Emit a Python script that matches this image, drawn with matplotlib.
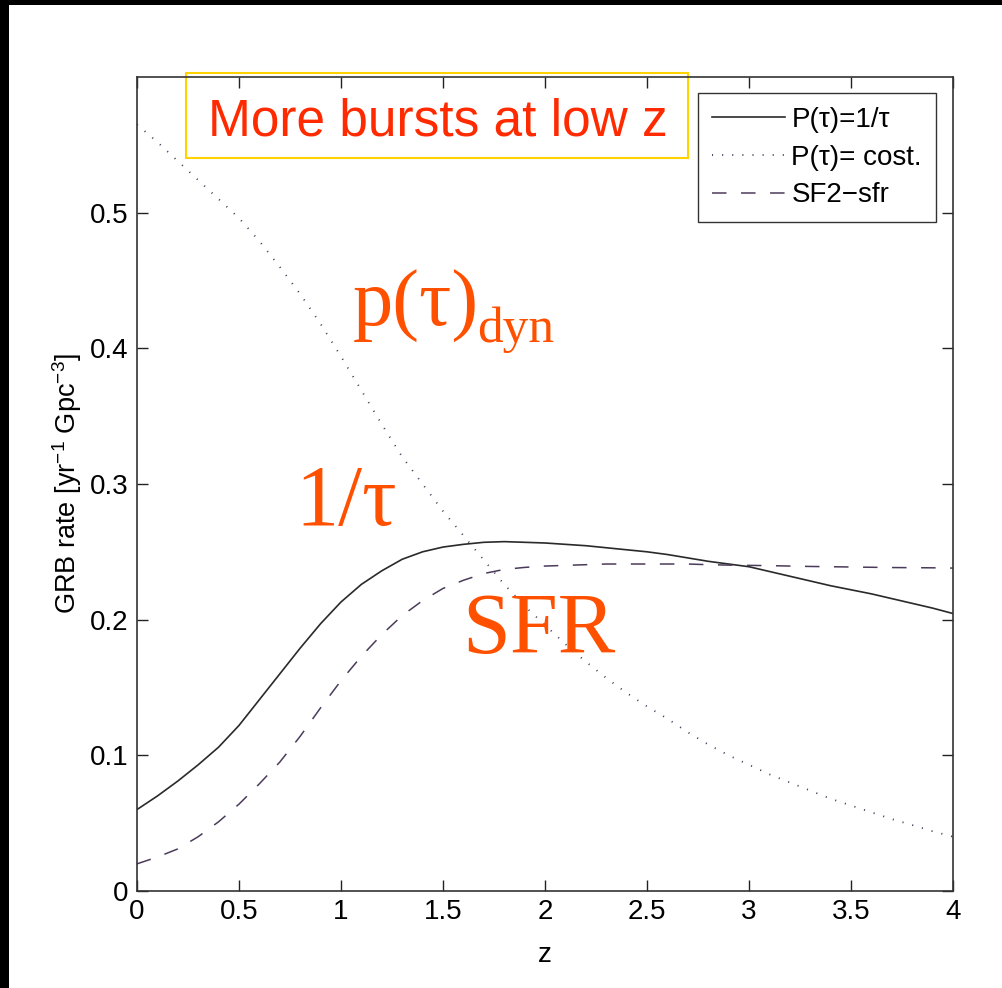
import matplotlib
matplotlib.use('Agg')
import matplotlib.pyplot as plt
from matplotlib.patches import Rectangle

# redshift grid and the three GRB rate curves
z = [0.0, 0.1, 0.2, 0.3, 0.4, 0.5, 0.6, 0.7, 0.8, 0.9,
     1.0, 1.1, 1.2, 1.3, 1.4, 1.5, 1.6, 1.7, 1.8, 1.9,
     2.0, 2.1, 2.2, 2.3, 2.4, 2.5, 2.6, 2.7, 2.8, 2.9,
     3.0, 3.1, 3.2, 3.3, 3.4, 3.5, 3.6, 3.7, 3.8, 3.9, 4.0]
rate_inv_tau = [0.060, 0.070, 0.081, 0.093, 0.106, 0.122, 0.141, 0.160, 0.179, 0.197,
                0.213, 0.226, 0.236, 0.2445, 0.250, 0.2535, 0.2555, 0.257, 0.2575, 0.257,
                0.2565, 0.2555, 0.2545, 0.253, 0.2515, 0.250, 0.248, 0.2455, 0.243, 0.241,
                0.239, 0.2355, 0.232, 0.2285, 0.225, 0.222, 0.219, 0.2155, 0.212, 0.2085,
                0.2045]
rate_const = [0.565, 0.552, 0.538, 0.524, 0.510, 0.496, 0.479, 0.460, 0.440, 0.418,
              0.394, 0.369, 0.344, 0.320, 0.300, 0.280, 0.262, 0.244, 0.226, 0.210,
              0.196, 0.182, 0.169, 0.157, 0.146, 0.136, 0.127, 0.117, 0.108, 0.100,
              0.093, 0.086, 0.080, 0.074, 0.068, 0.063, 0.058, 0.053, 0.0486, 0.044,
              0.040]
rate_sfr = [0.020, 0.025, 0.031, 0.040, 0.051, 0.064, 0.079, 0.095, 0.114, 0.135,
            0.155, 0.173, 0.189, 0.203, 0.214, 0.223, 0.229, 0.234, 0.237, 0.2385,
            0.2395, 0.240, 0.2405, 0.241, 0.241, 0.241, 0.241, 0.241, 0.2405, 0.2402,
            0.240, 0.2398, 0.2395, 0.2392, 0.239, 0.2388, 0.2386, 0.2384, 0.2383, 0.2382,
            0.238]

series_labels = ['P(\u03c4)=1/\u03c4', 'P(\u03c4)= cost.', 'SF2\u2212sfr']
xticks = [0, 0.5, 1, 1.5, 2, 2.5, 3, 3.5, 4]
xtick_labels = ['0', '0.5', '1', '1.5', '2', '2.5', '3', '3.5', '4']
yticks = [0, 0.1, 0.2, 0.3, 0.4, 0.5]
ytick_labels = ['0', '0.1', '0.2', '0.3', '0.4', '0.5']

SANS = ['Liberation Sans', 'DejaVu Sans']
SERIF = ['Liberation Serif', 'DejaVu Serif']
ORANGE = '#ff5000'
RED = '#ff2a00'

plt.rcParams['font.family'] = SANS
plt.rcParams['mathtext.fontset'] = 'custom'
plt.rcParams['mathtext.rm'] = 'Liberation Sans'
plt.rcParams['mathtext.default'] = 'rm'


def main():
    fig = plt.figure(figsize=(10.02, 9.88), dpi=100)
    fig.patch.set_facecolor('white')
    # black screenshot edge on the top and left
    fig.patches.append(Rectangle((0, 0.995), 1, 0.005, transform=fig.transFigure,
                                 fc='black', ec='none'))
    fig.patches.append(Rectangle((0, 0), 0.009, 1, transform=fig.transFigure,
                                 fc='black', ec='none'))

    ax = fig.add_axes([0.1367, 0.0982, 0.8144, 0.8239])
    ax.plot(z, rate_inv_tau, color='#2a2a2a', lw=1.2, label=series_labels[0])
    ax.plot(z, rate_const, color='#4a3a58', lw=1.3,
            linestyle=(0, (0.6, 5.0)), label=series_labels[1])
    ax.plot(z, rate_sfr, color='#4b3b5a', lw=1.1,
            linestyle=(0, (9.5, 9.5)), label=series_labels[2])

    ax.set_xlim(0, 4)
    ax.set_ylim(0, 0.6)
    ax.set_xticks(xticks)
    ax.set_xticklabels(xtick_labels)
    ax.set_yticks(yticks)
    ax.set_yticklabels(ytick_labels)
    ax.tick_params(direction='in', length=8, width=1, top=True, right=True,
                   labelsize=20, pad=6, color='#222222')
    for sp in ax.spines.values():
        sp.set_color('#333333')
        sp.set_linewidth(1.2)

    ax.set_xlabel('z', fontsize=20, labelpad=12)
    ax.set_ylabel('GRB rate [yr$^{-1}$ Gpc$^{-3}$]', fontsize=19.5, labelpad=4)

    leg = ax.legend(loc='upper right', bbox_to_anchor=(0.979, 0.980),
                    fontsize=20, frameon=True, fancybox=False,
                    handlelength=2.6, handletextpad=0.25, labelspacing=0.42,
                    borderpad=0.5, borderaxespad=0)
    leg.get_frame().set_edgecolor('black')
    leg.get_frame().set_linewidth(1.0)

    # yellow-framed headline
    ax.add_patch(Rectangle((0.060, 0.9005), 0.615, 0.1044, transform=ax.transAxes,
                           fill=False, ec='#ffd200', lw=1.5, clip_on=False))
    ax.text(0.369, 0.9275, 'More bursts at low z', transform=ax.transAxes,
            ha='center', va='baseline', fontsize=37, color=RED)

    # orange curve annotations
    ax.text(1.059, 0.4168, 'p(\u03c4)', ha='left', va='baseline',
            fontsize=58, color=ORANGE, family=SERIF)
    ax.text(1.665, 0.4043, 'dyn', ha='left', va='baseline',
            fontsize=37, color=ORANGE, family=SERIF)
    ax.text(0.775, 0.2695, '1/\u03c4', ha='left', va='baseline',
            fontsize=62, color=ORANGE, family=SERIF)
    ax.text(1.593, 0.1753, 'SFR', ha='left', va='baseline',
            fontsize=62, color=ORANGE, family=SERIF)

    fig.savefig('out.png', dpi=100, facecolor='white')


if __name__ == '__main__':
    main()
